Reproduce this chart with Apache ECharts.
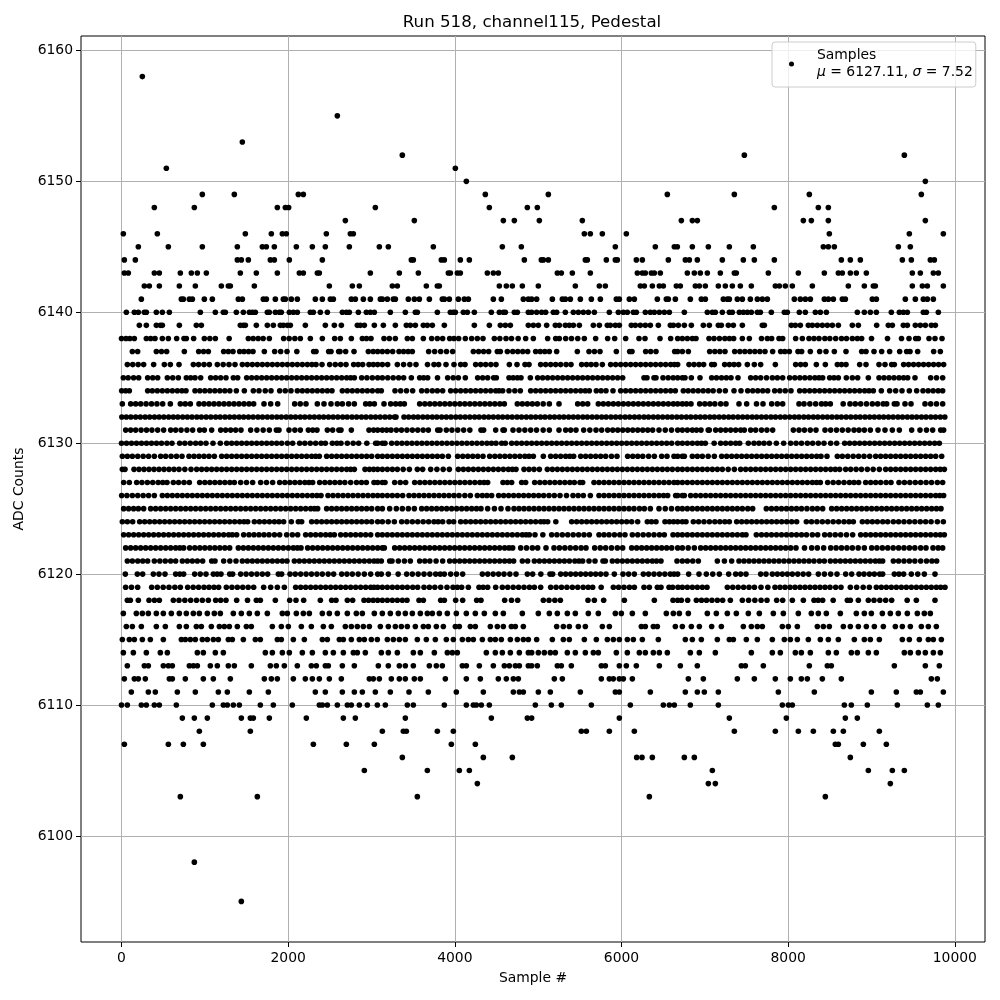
<!DOCTYPE html>
<html><head><meta charset="utf-8">
<script src="https://cdn.jsdelivr.net/npm/echarts@6/dist/echarts.min.js"></script>
<style>html,body{margin:0;padding:0;background:#fff}#c{width:1000px;height:1000px}</style>
</head><body><div id="c"></div>
<script>
const xTicks=[0,2000,4000,6000,8000,10000];
const yTicks=[6100,6110,6120,6130,6140,6150,6160];
const r6158=[250];
const r6155=[2590];
const r6153=[1450];
const r6152=[3370,7474,9394];
const r6151=[538,4006];
const r6150=[4138,9646];
const r6149=[970,1354,2122,2182,4366,5122,6550,7354,8254,9598];
const r6148=[394,874,1870,1966,2006,3046,4414,4870,4990,7834,8362,8482];
const r6147=[2686,3514,4582,4714,5014,5530,6718,6850,6910,8182,8278,8482,9646];
const r6146=[22,430,1486,1798,1930,1978,2458,2746,2782,5554,5626,5770,6058,8494,9454,9862];
const r6145=[202,562,970,1390,1690,1738,1834,2098,2290,2446,2734,3094,3202,3742,4570,4798,5926,6406,6634,6670,6850,7042,7294,7582,8422,8482,8554,9322,9466];
const r6144=[34,166,1390,1438,1522,1786,1834,2014,2410,3478,3502,3838,3874,4066,4174,4834,5038,5062,5122,5566,5590,5818,5926,5950,6178,6250,6562,6766,6814,6910,7210,7462,7594,7834,8638,8746,8866,9370,9478,9706,9754];
const r6143=[34,82,394,454,706,838,910,1018,1426,1618,1870,2134,2182,2350,2374,2986,3334,3562,3922,3946,4030,4066,4390,4462,4522,5230,5278,5410,5626,6190,6250,6286,6358,6394,6466,6790,6874,6946,7030,7186,7354,7378,7762,8122,8434,8602,8650,8746,8818,8938,9490,9586,9742,9802];
const r6142=[274,334,454,694,886,1198,1282,1306,1594,2494,2770,2854,3250,3310,3658,3790,3814,4534,4618,4690,4810,5002,5446,5734,5806,6226,6274,6370,6454,6502,6658,6706,6886,6934,7006,7162,7246,7330,7426,7558,7846,7894,7966,8050,8290,8722,8914,9022,9046,9490,9610,9670,9862];
const r6141=[238,718,742,814,850,994,1090,1402,1450,1702,1738,1846,1942,1966,2038,2110,2326,2410,2506,2542,2758,2806,2902,2986,3106,3130,3190,3262,3286,3442,3514,3574,3694,3850,3874,3934,4042,4114,4162,4462,4558,4822,4882,4922,4982,5170,5290,5326,5386,5506,5638,5746,5938,5974,6094,6154,6430,6538,6562,6646,6826,6958,7006,7222,7270,7294,7390,7450,7546,7630,7690,7750,8074,8146,8206,8266,8434,8482,8542,8650,8686,9010,9058,9406,9526,9622,9670,9742];
const r6140=[58,154,202,274,298,418,490,574,946,1126,1222,1246,1378,1462,1534,1570,1606,1750,1774,1846,1894,1918,2014,2062,2110,2266,2302,2386,2470,2650,2698,2734,2842,2938,2986,3034,3226,3406,3526,3550,3790,3946,3982,4006,4102,4150,4234,4438,4534,4582,4606,4714,4750,4882,4922,4982,5042,5090,5182,5222,5326,5422,5482,5542,5602,5674,5854,5962,6022,6070,6142,6178,6286,6346,6394,6454,6514,6574,6754,7030,7090,7126,7210,7294,7330,7414,7462,7510,7558,7630,7666,7798,7954,7990,8134,8206,8326,8386,8458,8830,8914,8986,9058,9238,9334,9382,9430,9622,9658,9802];
const r6139=[214,298,418,466,490,694,898,958,1426,1462,1486,1618,1750,1822,1906,1942,1990,2026,2206,2446,2554,2638,2830,2866,2914,3034,3142,3286,3418,3466,3526,3622,3670,3730,3874,4234,4414,4546,4606,4666,4882,4942,5002,5102,5206,5254,5326,5374,5422,5494,5662,5734,5830,5866,5926,5974,6118,6166,6226,6286,6346,6442,6586,6622,6682,6754,6838,6982,7054,7162,7198,7282,7342,7450,7690,7714,8038,8086,8146,8242,8290,8350,8410,8470,8530,8602,8770,8842,9062,9202,9250,9382,9430,9526,9586,9646,9718,9766];
const r6138=[0,54,100,154,298,350,402,490,562,662,750,778,866,994,1060,1126,1292,1522,1580,1640,1700,1774,1946,2012,2080,2146,2266,2410,2558,2626,2758,2890,2940,2994,3150,3214,3286,3430,3490,3622,3722,3790,3854,3938,3990,4046,4126,4202,4270,4338,4474,4540,4614,4680,4760,4850,4942,5114,5210,5254,5330,5400,5475,5554,5690,5834,5918,6050,6210,6282,6462,6590,6674,6730,6790,6850,6894,7050,7110,7175,7240,7295,7346,7450,7534,7680,7750,7802,7890,7934,8090,8170,8250,8310,8370,8440,8500,8570,8640,8700,8770,8830,8882,9000,9192,9360,9450,9530,9562,9690,9762,9846];
const r6137=[130,194,418,480,542,754,926,985,1042,1226,1282,1338,1418,1470,1525,1578,1714,1838,1910,1986,2104,2306,2334,2486,2514,2606,2622,2690,2790,2962,3020,3074,3130,3190,3254,3330,3385,3440,3490,3686,3758,3830,3900,3974,4222,4285,4345,4406,4510,4546,4630,4695,4755,4815,4874,4970,5025,5080,5134,5222,5470,5610,5675,5742,5938,6098,6126,6290,6350,6414,6638,6674,6730,6802,7058,7120,7180,7242,7358,7420,7480,7540,7600,7660,7722,7814,7910,7960,8014,8118,8162,8266,8378,8454,8554,8694,8882,8934,9030,9122,9218,9338,9422,9462,9554,9746,9826];
const r6136=[70,135,200,266,386,514,586,690,862,925,990,1054,1150,1220,1290,1362,1450,1510,1570,1630,1690,1750,1810,1870,1930,1990,2050,2110,2170,2230,2285,2334,2406,2498,2565,2630,2694,2786,2840,2894,2970,3022,3074,3130,3194,3310,3385,3460,3534,3672,3750,3806,3894,3990,4070,4122,4250,4310,4370,4432,4494,4654,4746,4842,4890,5030,5090,5150,5210,5270,5335,5394,5522,5580,5635,5694,5770,5870,5930,5990,6050,6110,6170,6230,6290,6350,6410,6470,6530,6590,6635,6674,6810,6870,6930,6986,7082,7114,7238,7295,7350,7406,7510,7594,7670,7846,8090,8150,8206,8338,8446,8590,8640,8694,8858,8934,9090,9162,9242,9274,9386,9445,9505,9565,9625,9685,9745,9805,9866];
const r6135=[22,80,145,206,314,375,434,550,615,682,778,830,882,950,1070,1130,1190,1254,1342,1394,1502,1562,1622,1682,1742,1802,1862,1922,1982,2042,2102,2162,2222,2282,2342,2402,2462,2522,2582,2642,2702,2750,2794,2882,2945,3010,3074,3130,3195,3260,3325,3386,3478,3578,3626,3674,3792,3914,3980,4042,4126,4274,4334,4394,4466,4498,4650,4700,4750,4794,4906,4994,5054,5114,5174,5234,5294,5354,5414,5474,5534,5594,5654,5714,5774,5834,5894,5954,6014,6270,6306,6390,6414,6498,6560,6620,6674,6730,6762,6838,6942,7082,7140,7200,7258,7314,7398,7550,7610,7670,7740,7810,7870,7934,8018,8080,8140,8200,8260,8320,8370,8414,8498,8550,8602,8698,8770,8834,8962,9090,9150,9210,9270,9330,9385,9434,9522,9710,9780,9854];
const r6134=[2,50,94,314,370,430,490,550,610,670,725,774,882,940,1000,1060,1120,1180,1240,1300,1378,1474,1582,1650,1725,1794,1898,1965,2034,2110,2170,2230,2290,2350,2410,2470,2526,2650,2710,2770,2830,2890,2950,3010,3074,3118,3282,3350,3420,3494,3602,3665,3730,3790,3854,3950,4010,4070,4130,4190,4250,4310,4370,4430,4490,4530,4574,4650,4720,4786,4910,4970,5030,5090,5150,5210,5270,5330,5390,5450,5510,5565,5614,5698,5755,5814,5898,5990,6050,6110,6170,6230,6290,6350,6410,6470,6530,6590,6646,6742,6800,6860,6920,6980,7040,7100,7174,7246,7350,7434,7514,7575,7635,7695,7754,7838,7900,7965,8034,8138,8198,8258,8318,8378,8438,8498,8558,8618,8678,8738,8798,8858,8918,8970,9022,9118,9218,9290,9366,9454,9542,9618,9680,9740,9800,9854];
const r6133=[10,110,170,230,295,360,425,494,586,706,765,826,930,990,1050,1110,1170,1230,1290,1350,1410,1470,1530,1586,1710,1790,1874,2078,2145,2214,2350,2430,2514,2590,2650,2725,2794,2930,2980,3034,3150,3230,3290,3345,3394,3578,3640,3700,3760,3820,3880,3940,4000,4060,4120,4180,4240,4300,4360,4420,4480,4540,4594,4750,4810,4870,4930,4990,5060,5134,5250,5474,5535,5594,5722,5782,5842,5902,5962,6022,6082,6142,6202,6262,6322,6382,6442,6502,6562,6622,6674,6730,6780,6834,6938,7000,7060,7120,7190,7254,7410,7502,7620,7698,7802,7870,7934,8130,8190,8260,8330,8400,8450,8506,8660,8742,8805,8870,8940,9010,9074,9140,9182,9274,9306,9402,9474,9642,9710,9780,9854];
const r6132=[4,58,112,170,226,284,338,396,452,508,566,622,676,734,790,846,904,958,1016,1072,1130,1184,1242,1298,1354,1412,1466,1524,1580,1638,1692,1750,1806,1864,1918,1976,2032,2088,2146,2200,2258,2314,2372,2426,2484,2540,2596,2654,2708,2766,2822,2880,2934,2992,3048,3104,3162,3218,3276,3294,3390,3446,3504,3558,3616,3672,3730,3784,3842,3898,3954,4012,4066,4124,4180,4238,4292,4350,4406,4462,4520,4574,4632,4688,4746,4800,4858,4914,4970,5028,5082,5140,5196,5254,5308,5366,5422,5478,5536,5590,5648,5704,5762,5816,5874,5930,5986,6044,6098,6156,6212,6270,6324,6382,6438,6494,6552,6606,6664,6720,6778,6832,6890,6946,7002,7060,7114,7172,7228,7286,7340,7398,7454,7510,7568,7622,7680,7736,7794,7848,7906,7962,8018,8076,8130,8188,8244,8302,8356,8414,8470,8526,8584,8638,8696,8752,8810,8864,8922,8978,9034,9092,9146,9204,9260,9318,9372,9430,9486,9542,9600,9654,9712,9768,9826,9880];
const r6131=[50,110,170,235,300,365,434,506,590,650,715,785,854,938,994,1082,1190,1250,1310,1370,1434,1550,1625,1700,1774,1858,1890,2010,2080,2146,2242,2295,2346,2470,2534,2608,2634,2758,2970,3025,3074,3130,3182,3234,3298,3360,3425,3490,3555,3620,3682,3794,3822,3898,3965,4035,4106,4180,4314,4346,4490,4578,4594,4698,4770,4840,4910,4980,5060,5134,5250,5330,5390,5454,5546,5620,5694,5762,5834,5895,5955,6015,6075,6135,6195,6255,6315,6374,6450,6525,6600,6674,6730,6790,6850,6900,6954,7040,7054,7130,7190,7250,7310,7370,7430,7474,7550,7610,7680,7745,7814,8062,8130,8195,8265,8334,8442,8510,8580,8650,8720,8790,8850,8914,8986,9078,9162,9250,9334,9482,9582,9660,9734,9830,9866];
const r6130=[0,60,120,180,240,300,360,420,480,545,606,698,760,825,890,950,1014,1098,1186,1262,1322,1382,1442,1502,1562,1622,1682,1742,1802,1862,1922,1990,2054,2138,2200,2265,2330,2395,2446,2530,2585,2634,2710,2780,2846,2944,3050,3074,3130,3162,3242,3305,3365,3425,3485,3545,3605,3665,3725,3785,3845,3905,3965,4025,4085,4145,4205,4265,4325,4385,4440,4494,4562,4606,4682,4742,4802,4862,4922,4982,5042,5102,5162,5222,5282,5342,5402,5462,5522,5582,5642,5702,5762,5822,5882,5942,6002,6062,6122,6182,6242,6302,6362,6422,6482,6542,6602,6674,6730,6790,6850,6910,6960,7006,7112,7190,7250,7310,7370,7418,7522,7590,7650,7710,7774,7858,7946,8030,8095,8160,8230,8294,8362,8430,8510,8582,8678,8738,8798,8858,8918,8978,9038,9098,9158,9218,9278,9338,9398,9458,9518,9578,9638,9698,9758,9814];
const r6129=[10,70,130,195,260,325,394,470,530,595,660,726,810,870,930,990,1050,1114,1202,1262,1322,1382,1442,1502,1562,1622,1682,1742,1802,1862,1922,1982,2042,2102,2162,2222,2282,2330,2374,2462,2522,2582,2642,2702,2762,2822,2882,2942,3002,3074,3130,3190,3250,3310,3370,3430,3490,3550,3610,3670,3730,3790,3850,3922,4034,4095,4155,4215,4275,4338,4418,4480,4540,4600,4660,4720,4780,4840,4890,4942,5062,5150,5210,5270,5330,5380,5426,5510,5570,5630,5690,5750,5810,5880,5946,6074,6135,6195,6255,6325,6394,6482,6546,6630,6674,6730,6754,6850,6910,6970,7040,7114,7202,7262,7322,7382,7442,7502,7562,7622,7682,7742,7802,7862,7922,7982,8042,8102,8162,8222,8282,8342,8394,8466,8590,8650,8715,8780,8845,8910,8978,9050,9110,9170,9230,9290,9350,9410,9470,9530,9590,9650,9710,9770,9842];
const r6128=[10,42,150,210,270,330,390,450,510,570,630,690,760,834,902,962,1022,1082,1142,1202,1262,1322,1382,1442,1502,1562,1622,1682,1742,1802,1862,1922,1982,2042,2102,2162,2222,2282,2342,2402,2462,2522,2582,2642,2702,2750,2794,2922,2975,3025,3074,3130,3190,3250,3310,3380,3454,3550,3614,3710,3785,3860,3934,4042,4102,4162,4222,4282,4342,4402,4462,4522,4582,4642,4690,4734,4830,4890,4950,5014,5110,5170,5230,5290,5350,5410,5470,5530,5590,5650,5710,5770,5830,5890,5950,6010,6070,6130,6190,6250,6310,6370,6430,6490,6550,6610,6674,6730,6790,6850,6910,6970,7030,7090,7150,7210,7280,7354,7430,7490,7550,7610,7670,7730,7790,7850,7910,7970,8030,8090,8150,8210,8270,8330,8390,8450,8510,8565,8618,8690,8750,8815,8880,8950,9020,9094,9170,9230,9290,9350,9410,9470,9530,9590,9650,9710,9770,9825,9874];
const r6127=[26,94,182,245,310,375,440,495,546,622,685,750,814,938,1000,1060,1120,1180,1240,1300,1354,1430,1500,1574,1670,1740,1814,1898,1960,2020,2080,2140,2200,2250,2294,2378,2440,2500,2560,2620,2680,2750,2820,2880,2938,3030,3074,3130,3162,3278,3345,3410,3518,3580,3640,3700,3760,3820,3880,3940,4000,4060,4120,4180,4240,4300,4350,4394,4578,4630,4682,4802,4850,4958,5020,5080,5140,5200,5260,5320,5380,5434,5502,5534,5670,5730,5790,5850,5910,5970,6030,6090,6150,6210,6270,6330,6390,6450,6510,6570,6630,6674,6730,6790,6850,6910,6970,7030,7090,7150,7210,7270,7330,7390,7450,7510,7570,7630,7690,7750,7810,7870,7930,7990,8050,8110,8170,8230,8290,8340,8386,8474,8540,8605,8670,8735,8790,8846,8930,8990,9050,9110,9175,9234,9330,9395,9460,9525,9590,9655,9720,9790,9854];
const r6126=[2,65,130,195,260,325,394,490,550,610,670,730,790,850,910,970,1030,1090,1150,1210,1270,1330,1390,1450,1510,1570,1630,1690,1750,1810,1870,1930,1990,2050,2110,2170,2230,2290,2345,2394,2478,2538,2598,2658,2718,2778,2838,2898,2958,3018,3074,3130,3190,3250,3310,3374,3450,3510,3570,3630,3690,3750,3810,3870,3930,3990,4050,4120,4186,4270,4330,4385,4442,4526,4586,4646,4706,4766,4826,4886,4946,5006,5066,5130,5194,5262,5340,5418,5480,5542,5626,5730,5790,5850,5910,5970,6030,6090,6150,6210,6270,6330,6390,6450,6505,6554,6650,6674,6730,6754,6830,6890,6950,7010,7070,7130,7190,7250,7310,7370,7430,7490,7550,7610,7670,7730,7790,7850,7910,7970,8030,8090,8150,8210,8270,8330,8390,8450,8510,8570,8630,8690,8750,8810,8870,8930,8990,9050,9110,9170,9230,9290,9350,9410,9470,9530,9590,9650,9710,9770,9820,9866];
const r6125=[26,85,145,202,266,350,410,470,530,590,650,710,770,830,890,950,1010,1070,1130,1190,1250,1310,1370,1430,1490,1550,1610,1670,1730,1790,1850,1910,1970,2030,2090,2150,2210,2270,2315,2354,2462,2522,2582,2642,2702,2762,2822,2882,2942,3002,3074,3130,3218,3298,3370,3442,3514,3602,3662,3722,3782,3842,3902,3962,4022,4082,4142,4202,4260,4314,4394,4475,4554,4638,4710,4770,4830,4890,4950,5010,5070,5130,5190,5250,5310,5370,5430,5490,5550,5610,5670,5730,5790,5850,5910,5970,6030,6090,6150,6215,6274,6346,6450,6525,6600,6674,6730,6790,6850,6910,6970,7030,7090,7150,7210,7270,7330,7390,7450,7515,7574,7738,7800,7860,7920,7980,8040,8100,8160,8225,8290,8350,8414,8522,8582,8642,8702,8762,8822,8882,8942,9002,9062,9122,9182,9242,9302,9362,9422,9482,9542,9602,9662,9722,9780,9834];
const r6124=[10,70,134,218,278,338,398,458,518,578,638,698,758,818,878,938,998,1058,1118,1178,1238,1298,1358,1418,1470,1514,1594,1655,1715,1775,1835,1890,1946,2038,2122,2162,2282,2342,2402,2462,2522,2582,2642,2702,2762,2822,2882,2942,3002,3074,3130,3200,3274,3362,3425,3490,3555,3620,3685,3750,3800,3854,3930,3986,4070,4130,4190,4250,4310,4370,4430,4490,4550,4610,4670,4730,4790,4850,4910,4970,5030,5070,5114,5212,5402,5462,5522,5582,5642,5702,5762,5822,5882,5942,6002,6062,6122,6194,6310,6360,6414,6522,6575,6625,6674,6730,6774,6862,6925,6990,7055,7120,7180,7240,7294,7382,7442,7502,7562,7622,7682,7742,7802,7862,7922,7982,8042,8102,8218,8280,8345,8410,8475,8540,8605,8670,8730,8782,8890,8950,9010,9070,9135,9194,9262,9325,9390,9455,9520,9585,9650,9715,9790,9862];
const r6123=[26,86,146,206,266,326,386,446,506,566,626,686,746,806,866,926,986,1046,1106,1166,1226,1286,1330,1382,1466,1530,1590,1650,1710,1770,1835,1898,1982,2050,2114,2210,2270,2330,2390,2450,2505,2554,2630,2690,2750,2810,2870,2930,2990,3074,3130,3190,3250,3310,3370,3430,3490,3550,3610,3670,3730,3790,3850,3910,3970,4030,4090,4150,4210,4270,4330,4390,4450,4510,4570,4630,4690,4750,4810,4855,4894,4962,5056,5162,5225,5290,5355,5420,5485,5550,5614,5730,5790,5850,5915,5980,6042,6130,6195,6260,6325,6390,6455,6514,6618,6674,6730,6790,6850,6910,6970,7030,7090,7150,7210,7270,7330,7390,7450,7494,7618,7680,7740,7800,7860,7920,7980,8040,8100,8160,8220,8290,8354,8438,8500,8565,8630,8700,8774,8870,8930,8990,9050,9110,9170,9230,9290,9350,9410,9470,9530,9590,9650,9710,9770,9825,9874];
const r6122=[50,110,170,230,290,350,410,470,530,590,650,700,746,818,880,940,1000,1060,1120,1180,1240,1298,1402,1462,1522,1582,1642,1702,1762,1822,1882,1942,2002,2062,2110,2154,2234,2294,2354,2414,2474,2534,2594,2654,2714,2774,2834,2894,2954,3014,3074,3130,3154,3278,3338,3398,3458,3518,3578,3638,3698,3758,3818,3878,3938,3998,4058,4118,4178,4238,4298,4358,4418,4478,4538,4598,4650,4694,4790,4860,4930,4994,5094,5190,5255,5320,5385,5450,5515,5574,5678,5745,5810,5880,5950,6014,6122,6182,6242,6302,6362,6422,6482,6542,6602,6674,6730,6800,6874,6950,7010,7070,7130,7190,7250,7310,7370,7430,7490,7550,7610,7670,7730,7790,7850,7910,7970,8030,8094,8196,8282,8350,8426,8510,8575,8640,8705,8770,8840,8914,9002,9065,9130,9195,9260,9325,9390,9455,9520,9590,9654,9738,9800,9854];
const r6121=[70,130,195,255,314,394,460,525,590,650,730,790,850,910,974,1082,1122,1226,1300,1374,1450,1510,1570,1630,1690,1750,1810,1870,1930,1986,2074,2134,2194,2254,2314,2374,2434,2494,2554,2614,2674,2734,2794,2854,2914,2974,3030,3074,3118,3218,3246,3322,3395,3466,3578,3640,3700,3775,3854,3938,3998,4058,4118,4178,4238,4298,4358,4418,4478,4538,4598,4655,4706,4810,4874,4954,5015,5075,5135,5195,5255,5315,5375,5440,5490,5534,5610,5682,5778,5806,5890,5950,6010,6070,6130,6190,6250,6310,6370,6420,6474,6666,6730,6790,6855,6922,7150,7235,7322,7410,7470,7530,7590,7650,7710,7770,7830,7890,7950,8010,8070,8130,8190,8250,8310,8375,8434,8506,8566,8626,8686,8746,8806,8866,8926,8986,9046,9094,9134,9262,9325,9390,9455,9520,9590,9660,9725,9782];
const r6120=[46,190,254,382,450,522,650,700,746,878,945,1014,1102,1148,1194,1298,1334,1430,1495,1560,1625,1690,1754,1882,1922,2022,2085,2150,2215,2280,2345,2410,2480,2546,2642,2705,2770,2840,2914,2990,3074,3118,3202,3320,3422,3490,3560,3630,3700,3770,3825,3874,3950,4020,4094,4330,4395,4460,4525,4590,4660,4734,4870,4934,5032,5142,5174,5270,5330,5390,5450,5510,5570,5630,5690,5750,5814,5914,6018,6085,6154,6262,6325,6390,6455,6520,6585,6630,6674,6806,6930,7018,7095,7174,7286,7370,7430,7494,7670,7734,7810,7870,7930,7990,8050,8115,8180,8246,8362,8435,8510,8586,8690,8762,8850,8910,8975,9034,9098,9134,9274,9330,9386,9478,9555,9634,9762];
const r6119=[50,120,194,362,430,500,570,640,706,794,860,925,990,1050,1110,1166,1258,1325,1390,1455,1520,1586,1706,1790,1870,1954,2090,2150,2210,2270,2330,2390,2450,2510,2570,2630,2690,2750,2810,2870,2930,2990,3030,3074,3130,3190,3250,3310,3370,3430,3495,3554,3630,3695,3760,3830,3906,3978,4030,4082,4162,4290,4340,4394,4490,4570,4635,4700,4765,4830,4895,4954,5030,5150,5215,5280,5345,5410,5475,5540,5600,5654,5756,5902,5965,6030,6095,6154,6270,6334,6430,6474,6570,6614,6678,6730,6790,6850,6910,6970,7026,7270,7335,7400,7465,7530,7595,7674,7756,7842,7902,7962,8022,8082,8142,8202,8262,8322,8382,8442,8502,8570,8634,8746,8822,8900,8974,9058,9118,9178,9238,9298,9358,9418,9478,9538,9598,9658,9718,9778,9830,9882];
const r6118=[70,106,202,330,395,454,622,690,760,830,900,970,1042,1130,1190,1254,1382,1512,1618,1666,1846,2018,2094,2186,2386,2522,2574,2710,2774,2910,2965,3020,3074,3130,3190,3250,3310,3370,3426,3570,3622,3830,3874,4010,4094,4262,4314,4598,4680,4754,5062,5130,5200,5266,5598,5674,5786,6034,6394,6618,6674,6718,6794,6898,6960,7020,7085,7150,7214,7306,7450,7525,7600,7675,7746,7862,7934,8050,8182,8310,8360,8414,8540,8710,8746,8842,8962,9030,9100,9170,9242,9428,9538,9762];
const r6117=[22,178,250,322,418,502,598,694,778,862,934,1030,1114,1186,1342,1438,1534,1630,1750,1930,1990,2098,2182,2254,2410,2494,2590,2710,2818,2890,3034,3130,3226,3322,3406,3490,3586,3670,3730,3814,3910,4018,4138,4246,4354,4486,4582,4810,5002,5134,5230,5350,5446,5602,5722,5926,5998,6130,6286,6538,6622,6694,6802,7030,7138,7270,7378,7522,7654,7822,7942,8122,8278,8362,8458,8626,8818,8914,8998,9130,9226,9322,9430,9550,9634,9706];
const r6116=[58,130,238,418,526,694,778,898,958,1078,1174,1234,1294,1390,1498,1558,1810,1918,2002,2158,2278,2422,2518,2686,2758,2830,2902,2974,3106,3202,3286,3358,3430,3526,3622,3682,3778,3862,4006,4054,4186,4246,4426,4510,4582,4678,4726,4822,5222,5302,5374,5482,5566,5770,5854,6238,6286,6382,6430,6646,6730,6838,6934,7082,7198,7462,7558,7630,7690,7930,8002,8110,8350,8422,8494,8662,8746,8842,8938,9034,9142,9286,9370,9466,9598,9682,9778];
const r6115=[10,94,154,250,346,502,718,766,826,886,970,1030,1102,1162,1282,1330,1462,1606,1666,1870,1918,2062,2194,2410,2470,2614,2662,2758,2854,2914,2998,3070,3190,3262,3334,3406,3550,3658,3766,3898,3982,4090,4162,4222,4330,4426,4486,4558,4666,4750,4822,4882,4982,5170,5302,5374,5554,5698,5830,5902,5974,6070,6142,6250,6442,6766,6850,6958,7150,7294,7342,7498,7630,7810,7954,8026,8110,8242,8386,8482,8602,8794,8914,8986,9094,9370,9454,9574,9682,9742,9838];
const r6114=[22,142,298,466,550,910,982,1126,1222,1726,1810,1930,2014,2170,2290,2446,2542,2662,2782,2830,2926,3118,3202,3310,3502,3586,3754,3910,3970,4030,4378,4486,4570,4666,4774,4882,4922,5002,5074,5146,5206,5350,5446,5566,5662,5722,5938,6070,6214,6286,6382,6454,6550,6826,6934,7126,7558,7810,7906,8086,8158,8266,8482,8578,8758,8830,8962,9058,9394,9466,9562,9646,9742,9826];
const r6113=[70,274,322,502,562,610,814,862,910,1066,1150,1282,1354,1558,1786,1858,1954,2110,2278,2338,2446,2482,2650,2794,3082,3202,3334,3406,3502,3694,3778,3850,4090,4138,4294,4462,4594,4654,4726,4774,4882,4922,4990,5230,5278,5398,5758,5806,5974,6058,6178,6454,6706,6910,7438,7486,7702,8254,8470,8518,9274,9646,9814];
const r6112=[34,154,202,286,574,610,766,982,1102,1306,1714,1798,1870,2062,2206,2290,2374,2494,2638,2974,3022,3094,3238,3334,3406,3514,3586,3886,4138,4306,4522,4618,4702,4762,5194,5290,5758,5854,5902,5974,6022,6130,6802,6982,7390,7594,7846,8026,8158,8230,8410,8638,9718,9790];
const r6111=[118,322,406,670,886,1162,1270,1534,1762,2326,2446,2650,2794,2890,3046,3226,3450,3682,4018,4342,4702,4774,4822,5002,5146,5506,5926,5974,6346,6766,6910,6994,7162,7882,8314,8998,9298,9538,9586,9862];
const r6110=[0,70,238,298,394,454,658,1090,1222,1270,1342,1414,1666,1822,2050,2374,2410,2470,2590,2710,2758,2854,2950,3070,3166,3430,3502,3874,4138,4222,4258,4318,4414,4966,5158,5278,5638,6106,6502,6574,6634,6826,7162,7930,8002,8050,8674,8758,8950,9310,9670,9802];
const r6109=[730,874,1030,1438,1546,1582,1774,2218,2662,2806,3406,4438,4870,4922,5974,7294,7978,8686,8830];
const r6108=[934,1546,3130,3382,3418,3790,3982,5518,5578,5854,6154,7354,7846,8122,8302,8542,8662,9094];
const r6107=[34,562,742,982,2302,2698,3034,3958,4246,8566,8602,8902,9178];
const r6106=[3370,4342,4690,6182,6246,6370,6754,6874,8746];
const r6105=[2914,3670,4054,4174,7090,8962,9250,9394];
const r6104=[4270,7042,7126,9226];
const r6103=[706,1630,3550,6334,8446];
const r6098=[874];
const r6095=[1438];

const levels=[6158,6155,6153,6152,6151,6150,6149,6148,6147,6146,6145,6144,6143,6142,6141,6140,6139,6138,6137,6136,6135,6134,6133,6132,6131,6130,6129,6128,6127,6126,6125,6124,6123,6122,6121,6120,6119,6118,6117,6116,6115,6114,6113,6112,6111,6110,6109,6108,6107,6106,6105,6104,6103,6098,6095];
const rows=[r6158,r6155,r6153,r6152,r6151,r6150,r6149,r6148,r6147,r6146,r6145,r6144,r6143,r6142,r6141,r6140,r6139,r6138,r6137,r6136,r6135,r6134,r6133,r6132,r6131,r6130,r6129,r6128,r6127,r6126,r6125,r6124,r6123,r6122,r6121,r6120,r6119,r6118,r6117,r6116,r6115,r6114,r6113,r6112,r6111,r6110,r6109,r6108,r6107,r6106,r6105,r6104,r6103,r6098,r6095];
const points=[];
rows.forEach((row,i)=>row.forEach(x=>points.push([x,levels[i]])));

const font='DejaVu Sans';
const chart=echarts.init(document.getElementById('c'),null,{renderer:'canvas'});
const axisBase={
  axisLine:{show:false,onZero:false},
  axisTick:{show:true,length:5,lineStyle:{color:'#000',width:1}},
  splitLine:{show:true,lineStyle:{color:'#b0b0b0',width:1}},
  nameLocation:'middle',
  nameTextStyle:{fontFamily:font,fontSize:13.9,color:'#000'}
};
const plain=v=>String(v);
chart.setOption({
  animation:false,
  backgroundColor:'#fff',
  title:{text:'Run 518, channel115, Pedestal',left:527,top:9,textAlign:'center',
    textStyle:{fontFamily:font,fontSize:16.67,fontWeight:'normal',color:'#000'}},
  grid:{left:81,right:15,top:36,bottom:58,show:true,borderColor:'#000',borderWidth:1,backgroundColor:'#fff'},
  xAxis:Object.assign({},axisBase,{type:'value',min:-486,max:10362,name:'Sample #',nameGap:29,
    axisTick:Object.assign({},axisBase.axisTick,{customValues:xTicks}),
    axisLabel:{customValues:xTicks,formatter:plain,margin:9,fontFamily:font,fontSize:13.9,color:'#000'}}),
  yAxis:Object.assign({},axisBase,{type:'value',min:6091.9,max:6161.1,name:'ADC Counts',nameGap:51,
    axisTick:Object.assign({},axisBase.axisTick,{customValues:yTicks}),
    axisLabel:{customValues:yTicks,formatter:plain,margin:8,fontFamily:font,fontSize:13.9,color:'#000'}}),
  legend:{show:true,left:772,top:42,orient:'vertical',padding:[5,3,6,17],
    itemWidth:5,itemHeight:5,icon:'circle',
    backgroundColor:'rgba(255,255,255,0.8)',borderColor:'#ccc',borderWidth:1,borderRadius:3,
    formatter:()=>'Samples\n{i|\u03bc} = 6127.11, {i|\u03c3} = 7.52',
    textStyle:{fontFamily:font,fontSize:13.9,color:'#000',lineHeight:17,padding:[0,0,0,18],
      rich:{i:{fontFamily:font,fontStyle:'italic',fontSize:13.9,color:'#000',lineHeight:17}}}},
  series:[{name:'Samples',type:'scatter',data:points,symbol:'circle',symbolSize:5.6,
    itemStyle:{color:'#000',opacity:1},silent:true,z:3}]
});
</script>
</body></html>
